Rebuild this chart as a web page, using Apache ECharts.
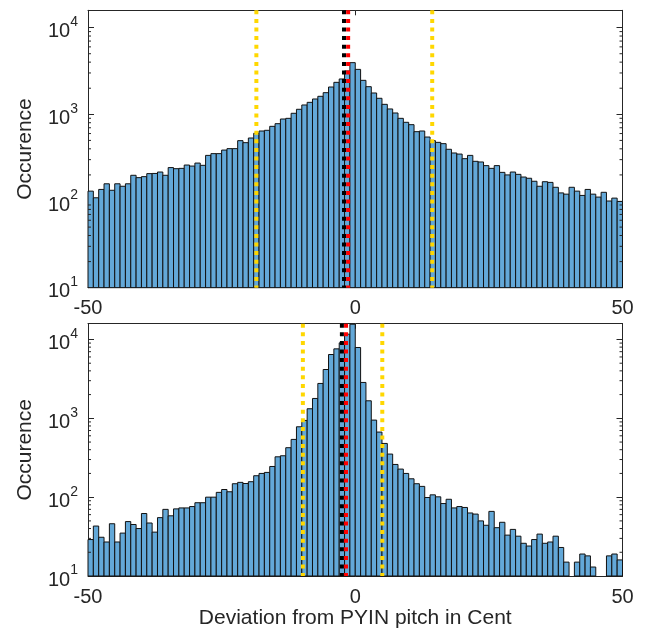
<!DOCTYPE html>
<html>
<head>
<meta charset="utf-8">
<script src="https://cdn.jsdelivr.net/npm/echarts@6/dist/echarts.min.js"></script>
<style>
  html, body { margin: 0; padding: 0; background: #fff; }
  #chart { width: 645px; height: 632px; }
</style>
</head>
<body>
<div id="chart"></div>
<script>
// histogram bins: 1 cent wide, from -50 to 50
const binStart = -50
const binCount = 100

const topCounts = [
  130, 109, 136, 158, 133, 158, 148, 158, 198, 186,
  191, 207, 208, 216, 198, 243, 236, 238, 260, 253,
  274, 258, 336, 352, 352, 387, 402, 402, 497, 471,
  533, 604, 642, 654, 727, 780, 883, 899, 1028, 1143,
  1282, 1375, 1503, 1614, 1778, 2066, 2339, 2557, 3162, 3945,
  3300, 2467, 2084, 1762, 1531, 1304, 1153, 1036, 899, 809,
  760, 631, 642, 547, 497, 475, 459, 395, 358, 348,
  308, 336, 287, 282, 256, 238, 256, 214, 200, 216,
  203, 189, 183, 169, 148, 167, 164, 144, 124, 120,
  144, 130, 116, 136, 120, 111, 126, 100, 108, 99
]

const bottomCounts = [
  29, 43, 31, 27, 46, 27, 35, 49, 45, 40,
  62, 47, 36, 55, 70, 58, 71, 73, 73, 76,
  85, 85, 100, 100, 115, 125, 117, 148, 154, 149,
  157, 187, 200, 206, 245, 325, 335, 424, 540, 781,
  940, 1322, 1786, 2768, 4160, 6446, 7600, 9060, 11670, 15600,
  7910, 2850, 1668, 949, 669, 480, 352, 260, 227, 200,
  171, 148, 137, 99, 107, 101, 83, 94, 73, 76,
  74, 63, 61, 50, 44, 66, 41, 48, 33, 39,
  32, 26, 24, 29, 34, 26, 27, 32, 23, 15,
  null, 15, 19, 18, 13, null, null, 18, 19, 16
]

// vertical marker lines (cent)
const topYellow = [-18.5, 14.4]
const topBlack = [-2.1]
const topRed = [-1.33]
const bottomYellow = [-9.8, 5.06]
const bottomBlack = [-2.5]
const bottomRed = [-1.72]

const xTicks = [-50, 0, 50]
const yMin = 10
const yMax = 15849

const textColor = '#262626'
const font = 'Liberation Sans, Arial, Helvetica, sans-serif'
const barFill = '#63a8d8'

// log minor ticks 2..9 in every decade
const minorTicks = []
for (let d = 10; d < yMax; d *= 10) {
  for (let m = 2; m <= 9; m++) if (d * m < yMax) minorTicks.push(d * m)
}

function binData(counts) {
  const out = []
  counts.forEach((c, i) => {
    if (c != null) out.push([binStart + i, binStart + i + 1, c])
  })
  return out
}

function renderBar(params, api) {
  const p0 = api.coord([api.value(0), api.value(2)])
  const p1 = api.coord([api.value(1), yMin])
  const top = Math.max(p0[1], params.coordSys.y)
  return {
    type: 'rect',
    shape: { x: p0[0], y: top, width: p1[0] - p0[0], height: p1[1] - top },
    style: { fill: barFill, stroke: '#111', lineWidth: 1 }
  }
}

function renderMinor(params, api) {
  const v = api.value(1)
  const l = api.coord([xTicks[0], v])
  const r = api.coord([xTicks[2], v])
  const st = { stroke: textColor, lineWidth: 1 }
  return {
    type: 'group',
    children: [
      { type: 'line', shape: { x1: l[0], y1: l[1], x2: l[0] + 3, y2: l[1] }, style: st },
      { type: 'line', shape: { x1: r[0] - 3, y1: r[1], x2: r[0], y2: r[1] }, style: st }
    ]
  }
}

function vline(x, color, idx) {
  return {
    type: 'line',
    xAxisIndex: idx * 2,
    yAxisIndex: idx * 2,
    data: [[x, yMax], [x, yMin]],
    symbol: 'none',
    silent: true,
    z: 5,
    lineStyle: { color: color, width: 4, type: [4, 4.6], cap: 'butt' }
  }
}

function yLabel(v) {
  const e = Math.round(Math.log10(v))
  if (Math.abs(Math.log10(v) - e) > 1e-6) return ''
  return '{b|10}{s|' + e + '}'
}

const axisLine = { onZero: false, lineStyle: { color: textColor, width: 1 } }

function xAxes(gi, showName) {
  return [{
    type: 'value', gridIndex: gi, position: 'bottom',
    min: xTicks[0], max: xTicks[2], interval: 50,
    axisLine, splitLine: { show: false },
    axisTick: { inside: true, length: 5, lineStyle: { color: textColor } },
    axisLabel: { color: textColor, fontSize: 20, fontFamily: font, margin: 11 },
    name: showName ? 'Deviation from PYIN pitch in Cent' : '',
    nameLocation: 'middle', nameGap: 32,
    nameTextStyle: { color: textColor, fontSize: 21, fontFamily: font }
  }, {
    type: 'value', gridIndex: gi, position: 'top',
    min: xTicks[0], max: xTicks[2], interval: 50,
    axisLine, splitLine: { show: false },
    axisTick: { inside: true, length: 5, lineStyle: { color: textColor } },
    axisLabel: { show: false }
  }]
}

function yAxes(gi) {
  return [{
    type: 'log', logBase: 10, gridIndex: gi, position: 'left',
    min: yMin, max: yMax,
    axisLine, splitLine: { show: false },
    axisTick: { inside: true, length: 6, lineStyle: { color: textColor } },
    axisLabel: {
      formatter: yLabel, margin: 10, padding: [8, 0, 0, 0],
      rich: {
        b: { fontSize: 20, lineHeight: 33, fontFamily: font, color: textColor },
        s: { fontSize: 14, lineHeight: 14, verticalAlign: 'top', fontFamily: font, color: textColor }
      }
    },
    name: 'Occurence', nameLocation: 'middle', nameGap: 52,
    nameTextStyle: { color: textColor, fontSize: 21, fontFamily: font }
  }, {
    type: 'log', logBase: 10, gridIndex: gi, position: 'right',
    min: yMin, max: yMax,
    axisLine, splitLine: { show: false },
    axisTick: { inside: true, length: 6, lineStyle: { color: textColor } },
    axisLabel: { show: false }
  }]
}

function panelSeries(gi, counts, yellow, black, red) {
  const list = [{
    type: 'custom', xAxisIndex: gi * 2, yAxisIndex: gi * 2,
    renderItem: renderBar, data: binData(counts),
    encode: { x: [0, 1], y: 2 }, silent: true, z: 2
  }, {
    type: 'custom', xAxisIndex: gi * 2, yAxisIndex: gi * 2,
    renderItem: renderMinor, data: minorTicks.map(v => [0, v]),
    encode: { x: 0, y: 1 }, silent: true, z: 6
  }]
  yellow.forEach(x => list.push(vline(x, '#ffd700', gi)))
  black.forEach(x => list.push(vline(x, '#000000', gi)))
  red.forEach(x => list.push(vline(x, '#ff0000', gi)))
  return list
}

const chart = echarts.init(document.getElementById('chart'), null, { renderer: 'canvas' })
chart.setOption({
  animation: false,
  backgroundColor: '#fff',
  grid: [
    { left: 88, right: 22.5, top: 10.3, height: 277.4 },
    { left: 88, right: 22.5, top: 323.7, height: 252.3 }
  ],
  xAxis: [...xAxes(0, false), ...xAxes(1, true)],
  yAxis: [...yAxes(0), ...yAxes(1)],
  series: [
    ...panelSeries(0, topCounts, topYellow, topBlack, topRed),
    ...panelSeries(1, bottomCounts, bottomYellow, bottomBlack, bottomRed)
  ]
})
</script>
</body>
</html>
